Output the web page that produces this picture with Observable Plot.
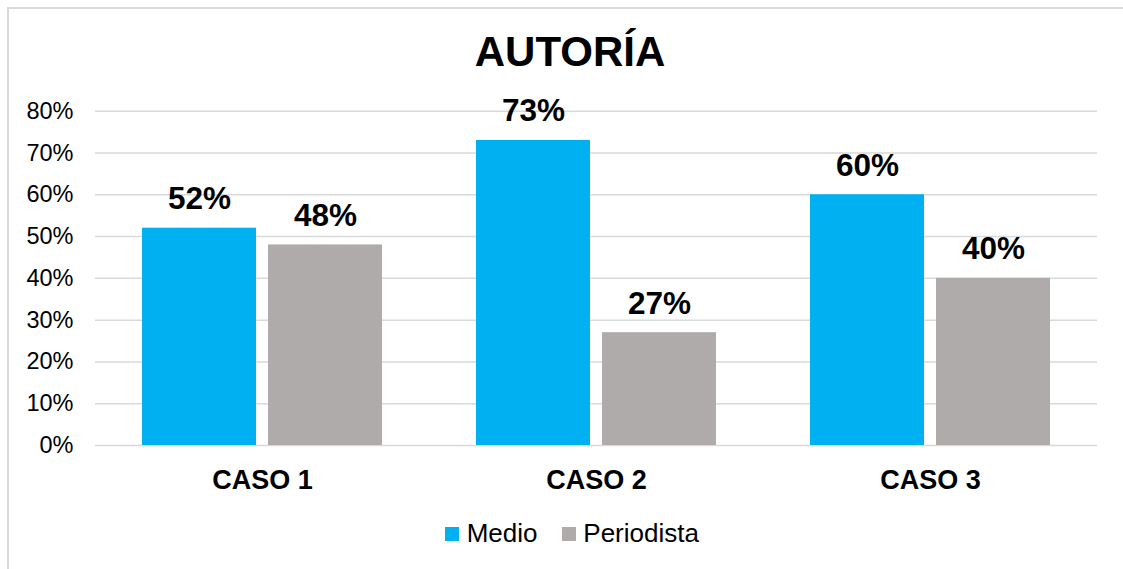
<!DOCTYPE html>
<html>
<head>
<meta charset="utf-8">
<script src="https://cdn.jsdelivr.net/npm/d3@7"></script>
<script src="https://cdn.jsdelivr.net/npm/@observablehq/plot@0.6"></script>
<style>
  html, body { margin: 0; padding: 0; background: #fff; overflow: hidden; }
  #wrap { position: relative; width: 1123px; height: 569px; overflow: hidden; background: #fff;
          font-family: "Liberation Sans", Arial, sans-serif; color: #000; }
  #frame { position: absolute; left: 7px; top: 7px; width: 1200px; height: 700px;
           border: 2px solid #d9d9d9; box-sizing: border-box; }
  #title { position: absolute; left: 0; top: 31px; width: 1140px; text-align: center;
           font-size: 42px; line-height: 42px; font-weight: bold; }
  #chart { position: absolute; left: 0; top: 90px; }
  .sw { position: absolute; width: 14px; height: 14px; top: 527px; }
  .lt { position: absolute; top: 520px; font-size: 26px; line-height: 26px; white-space: nowrap; }
</style>
</head>
<body>
<div id="wrap">
  <div id="frame"></div>
  <div id="title">AUTORÍA</div>
  <div id="chart"></div>
  <div id="legend"></div>
</div>
<script>
const cases = ["CASO 1", "CASO 2", "CASO 3"];
const series = ["Medio", "Periodista"];
const medio = [0.52, 0.73, 0.60];
const periodista = [0.48, 0.27, 0.40];
const yTicks = [0, 0.1, 0.2, 0.3, 0.4, 0.5, 0.6, 0.7, 0.8];
const colors = ["#00B0F0", "#AFABAB"];

const rows = [];
cases.forEach((c, i) => {
  rows.push({caso: c, serie: series[0], valor: medio[i]});
  rows.push({caso: c, serie: series[1], valor: periodista[i]});
});

const pct = d3.format(".0%");

const chart = Plot.plot({
  width: 1123,
  height: 410,
  marginTop: 20.7,
  marginBottom: 55,
  marginLeft: 94,
  marginRight: 26,
  style: {background: "transparent", fontFamily: "'Liberation Sans', Arial, sans-serif", overflow: "visible", color: "#000"},
  fx: {domain: cases, paddingInner: 0, paddingOuter: 0, label: null},
  x: {domain: series, paddingInner: 0.0945, paddingOuter: 0.37, axis: null},
  y: {domain: [0, 0.8], axis: null},
  color: {domain: series, range: colors},
  marks: [
    Plot.ruleY(yTicks, {stroke: "#d9d9d9", strokeWidth: 1.5}),
    Plot.barY(rows, {fx: "caso", x: "serie", y: "valor", fill: "serie"}),
    Plot.text(rows, {fx: "caso", x: "serie", y: "valor", text: d => pct(d.valor),
      lineAnchor: "bottom", dy: -19, fontSize: 31.5, fontWeight: "bold", fill: "#000"}),
    Plot.axisY(yTicks, {tickFormat: pct, tickSize: 0, tickPadding: 22, fontSize: 23.5, label: null}),
    Plot.axisFx({anchor: "bottom", tickSize: 0, tickPadding: 24, fontSize: 27, fontWeight: "bold", label: null})
  ]
});
document.getElementById("chart").appendChild(chart);

const legend = document.getElementById("legend");
const swX = [445, 561.7];
const txX = [466.7, 583.3];
series.forEach((s, i) => {
  const sw = document.createElement("div");
  sw.className = "sw";
  sw.style.left = swX[i] + "px";
  sw.style.background = colors[i];
  legend.appendChild(sw);
  const t = document.createElement("div");
  t.className = "lt";
  t.style.left = txX[i] + "px";
  t.textContent = s;
  legend.appendChild(t);
});
</script>
</body>
</html>
